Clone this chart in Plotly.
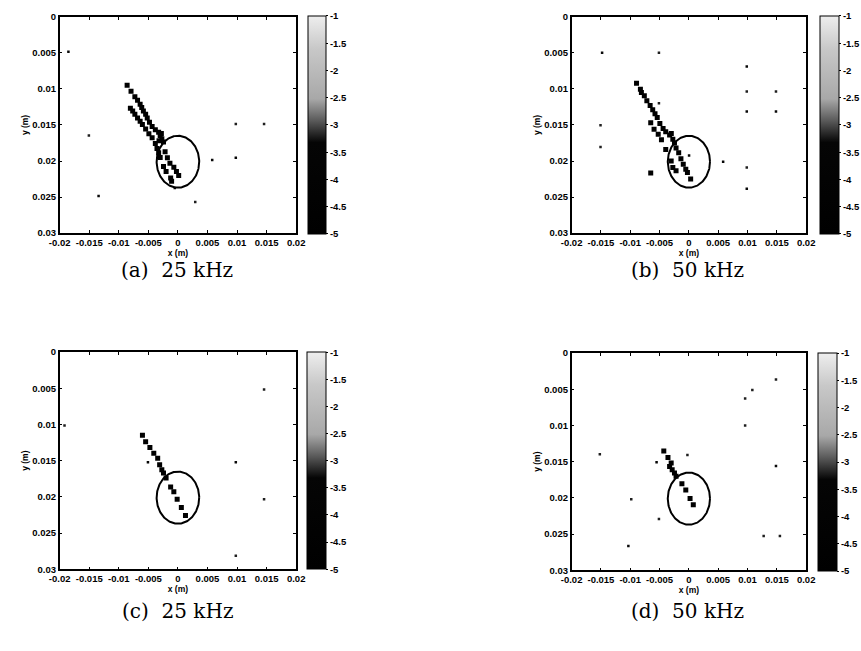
import numpy as np
import plotly.graph_objects as go

# ---- axes and colour-bar ticks ----
X_TICKS = [-0.02, -0.015, -0.01, -0.005, 0, 0.005, 0.01, 0.015, 0.02]
X_TICK_TEXT = ["-0.02", "-0.015", "-0.01", "-0.005", "0", "0.005", "0.01", "0.015", "0.02"]
Y_TICKS = [0, 0.005, 0.01, 0.015, 0.02, 0.025, 0.03]
Y_TICK_TEXT = ["0", "0.005", "0.01", "0.015", "0.02", "0.025", "0.03"]
CBAR_TICKS = [-1, -1.5, -2, -2.5, -3, -3.5, -4, -4.5, -5]
CBAR_TICK_TEXT = ["-1", "-1.5", "-2", "-2.5", "-3", "-3.5", "-4", "-4.5", "-5"]
CAPTIONS = ["(a)\u00a0 25 kHz", "(b)\u00a0 50 kHz", "(c)\u00a0 25 kHz", "(d)\u00a0 50 kHz"]

# circular target outline (m)
TARGET_CX = 0.0
TARGET_CY = 0.0201
TARGET_R = 0.0036

# ---- reconstructed image points: x (m), y (m), log amplitude ----
a_x = [-0.00859, -0.00793, -0.00728, -0.00683, -0.00639, -0.00612, -0.00584, -0.00546,
       -0.00519, -0.00481, -0.00436, -0.00382, -0.00326, -0.00300, -0.00272, -0.00244,
       -0.00280, -0.00320, -0.00217, -0.00178, -0.00135, -0.00069, -0.00025, 0.00013,
       -0.00804, -0.00765, -0.00728, -0.00683, -0.00639, -0.00601, -0.00546, -0.00491,
       -0.00436, -0.00382, -0.00354, -0.00326, -0.00300, -0.00244, -0.00200, -0.00123,
       -0.00107,
       -0.01852, -0.01506, -0.01342, 0.00979, 0.00580, 0.00979, 0.00293, 0.01457, -0.00053]
a_y = [0.00950, 0.01032, 0.01109, 0.01159, 0.01214, 0.01259, 0.01305, 0.01350,
       0.01405, 0.01463, 0.01523, 0.01568, 0.01600, 0.01645, 0.01691, 0.01736,
       0.01620, 0.01720, 0.01873, 0.01955, 0.02032, 0.02086, 0.02145, 0.02200,
       0.01268, 0.01305, 0.01350, 0.01405, 0.01450, 0.01495, 0.01555, 0.01623,
       0.01677, 0.01759, 0.01827, 0.01886, 0.01950, 0.02077, 0.02145, 0.02236,
       0.02281,
       0.00486, 0.01645, 0.02486, 0.01486, 0.01986, 0.01955, 0.02568, 0.01486, 0.02373]
a_v = [-4.6, -4.7, -4.8, -4.9, -4.9, -4.9, -4.9, -4.9,
       -4.9, -4.9, -4.9, -4.9, -4.9, -5.0, -5.0, -5.0,
       -5.0, -5.0, -4.8, -4.8, -4.8, -4.8, -4.8, -4.6,
       -4.3, -4.5, -4.6, -4.7, -4.7, -4.7, -4.7, -4.7,
       -4.7, -4.8, -4.8, -4.8, -4.8, -4.7, -4.7, -4.6,
       -4.5,
       -3.3, -3.2, -3.3, -3.2, -3.3, -3.4, -3.2, -3.2, -3.5]

b_x = [-0.00893, -0.00827, -0.00810, -0.00760, -0.00717, -0.00661, -0.00617, -0.00578,
       -0.00540, -0.00495, -0.00440, -0.00395, -0.00329, -0.00274, -0.00246, -0.00219,
       -0.00300, -0.00174, -0.00136, -0.00096, -0.00053, -0.00025, 0.00030,
       -0.00651, -0.00594, -0.00523, -0.00468, -0.00395, -0.00302, -0.00274, -0.00219,
       -0.00651,
       -0.01480, -0.00511, -0.01507, -0.01507, -0.00511, 0.00003, 0.00584, 0.00987,
       0.00987, 0.00987, 0.01485, 0.01485, 0.00987, 0.00987]
b_y = [0.00923, 0.01005, 0.01049, 0.01095, 0.01163, 0.01231, 0.01290, 0.01344,
       0.01398, 0.01480, 0.01548, 0.01593, 0.01638, 0.01697, 0.01751, 0.01819,
       0.01620, 0.01887, 0.01968, 0.02046, 0.02114, 0.02158, 0.02249,
       0.01470, 0.01561, 0.01629, 0.01706, 0.01842, 0.02000, 0.02091, 0.02136,
       0.02168,
       0.00498, 0.00498, 0.01503, 0.01805, 0.01199, 0.01923, 0.02009, 0.00688,
       0.01036, 0.01312, 0.01312, 0.01036, 0.02090, 0.02385]
b_v = [-4.6, -4.8, -4.9, -4.9, -4.9, -4.9, -4.9, -4.9,
       -4.9, -4.9, -4.9, -4.9, -5.0, -5.0, -5.0, -5.0,
       -4.9, -4.9, -4.9, -4.9, -4.8, -4.8, -4.6,
       -4.3, -4.3, -4.3, -4.3, -4.3, -4.4, -4.4, -4.4,
       -4.4,
       -3.3, -3.2, -3.2, -3.2, -3.2, -3.3, -3.4, -3.3,
       -3.2, -3.3, -3.3, -3.2, -3.2, -3.3]

c_x = [-0.00600, -0.00546, -0.00474, -0.00408, -0.00342, -0.00309, -0.00272, -0.00244,
       -0.00200, -0.00123, -0.00069, -0.00013, 0.00058, 0.00128,
       -0.00507, -0.01918, 0.01457, 0.00979, 0.00979, 0.01457]
c_y = [0.01150, 0.01240, 0.01317, 0.01398, 0.01466, 0.01557, 0.01625, 0.01670,
       0.01738, 0.01864, 0.01928, 0.02032, 0.02145, 0.02258,
       0.01520, 0.01014, 0.00516, 0.01520, 0.02814, 0.02032]
c_v = [-4.6, -4.7, -4.7, -4.7, -4.8, -5.0, -5.0, -5.0,
       -5.0, -4.8, -4.8, -4.8, -4.8, -4.7,
       -3.4, -3.2, -3.2, -3.3, -3.2, -3.2]

d_x = [-0.00428, -0.00357, -0.00302, -0.00329, -0.00285, -0.00246, -0.00219,
       -0.00119, -0.00053, 0.00020, 0.00075,
       -0.00551, -0.01519, -0.00025, -0.00983, -0.00511, -0.01032, 0.00959, 0.01082,
       0.01485, 0.00959, 0.01485, 0.01275, 0.01552]
d_y = [0.01353, 0.01443, 0.01520, 0.01565, 0.01611, 0.01656, 0.01701,
       0.01805, 0.01891, 0.02009, 0.02095,
       0.01507, 0.01398, 0.01407, 0.02018, 0.02290, 0.02665, 0.00629, 0.00512,
       0.00367, 0.01000, 0.01561, 0.02525, 0.02525]
d_v = [-4.4, -4.6, -4.9, -5.0, -5.0, -5.0, -5.0,
       -4.6, -4.6, -4.6, -4.6,
       -3.4, -3.2, -3.2, -3.2, -3.2, -3.3, -3.2, -3.2,
       -3.2, -3.2, -3.3, -3.2, -3.2]

PANELS = [(a_x, a_y, a_v), (b_x, b_y, b_v), (c_x, c_y, c_v), (d_x, d_y, d_v)]

# ---- layout geometry (pixels, converted to paper fractions) ----
W, H = 861, 651
# plot boxes: left, right, top, bottom
BOXES = [(50, 293, 11, 231), (576, 817, 11, 231), (50, 293, 352, 573), (576, 817, 353, 574)]
# colour bars: left, width, top, bottom
CBARS = [(305, 18, 10, 232), (831, 19, 10, 232), (304, 19, 352, 573), (829, 19, 353, 575)]
CAPTION_POS = [(171, 269), (695, 269), (171, 615), (695, 615)]

GRAYSCALE = [[0.0, "#000000"], [0.42, "#050505"], [0.52, "#5a5a5a"],
             [0.62, "#a8a8a8"], [0.85, "#c8c8c8"], [1.0, "#eeeeee"]]

tick_font = dict(family="Liberation Sans, Arial", size=9.5, color="black", weight="bold")
title_font = dict(family="Liberation Sans, Arial", size=8.5, color="black", weight="bold")

fig = go.Figure()
layout = dict(width=W, height=H, margin=dict(l=0, r=0, t=0, b=0),
              paper_bgcolor="white", plot_bgcolor="white", showlegend=False)

theta = np.linspace(0, 2 * np.pi, 200)
circ_x = TARGET_CX + TARGET_R * np.cos(theta)
circ_y = TARGET_CY + TARGET_R * np.sin(theta)

for i, (px, py, pv) in enumerate(PANELS):
    n = "" if i == 0 else str(i + 1)
    xa, ya, ca = "x" + n, "y" + n, "coloraxis" + n
    sizes = [5 if v < -4 else 2.5 for v in pv]
    fig.add_trace(go.Scatter(
        x=px, y=py, mode="markers", xaxis=xa, yaxis=ya,
        marker=dict(symbol="square", size=sizes, color=pv, coloraxis=ca,
                    opacity=1, line=dict(width=0)),
        hoverinfo="skip"))
    fig.add_trace(go.Scatter(
        x=circ_x, y=circ_y, mode="lines", xaxis=xa, yaxis=ya,
        line=dict(color="black", width=2), hoverinfo="skip"))

    l, r, t, b = BOXES[i]
    layout["xaxis" + n] = dict(
        domain=[l / W, r / W], anchor=ya, range=[-0.02, 0.02],
        tickvals=X_TICKS, ticktext=X_TICK_TEXT, ticks="inside", ticklen=3,
        tickcolor="black", showline=True, linecolor="black", linewidth=1.5, mirror="ticks",
        showgrid=False, zeroline=False, tickfont=tick_font,
        title=dict(text="x (m)", font=title_font, standoff=0))
    layout["yaxis" + n] = dict(
        domain=[1 - b / H, 1 - t / H], anchor=xa, range=[0.03, 0],
        tickvals=Y_TICKS, ticktext=Y_TICK_TEXT, ticks="inside", ticklen=3,
        tickcolor="black", showline=True, linecolor="black", linewidth=1.5, mirror="ticks",
        showgrid=False, zeroline=False, tickfont=tick_font,
        title=dict(text="y (m)", font=title_font, standoff=2))

    cl, cw, ct, cb = CBARS[i]
    layout[ca] = dict(
        cmin=-5, cmax=-1, colorscale=GRAYSCALE,
        colorbar=dict(
            x=cl / W, xanchor="left", xref="paper",
            y=1 - (ct + cb) / 2 / H, yanchor="middle", yref="paper",
            len=(cb - ct) / H, lenmode="fraction",
            thickness=cw, thicknessmode="pixels",
            outlinecolor="black", outlinewidth=1,
            tickvals=CBAR_TICKS, ticktext=CBAR_TICK_TEXT,
            ticks="outside", ticklen=2, tickcolor="black",
            tickfont=tick_font, xpad=0, ypad=0))

annotations = []
for (cx, cy), text in zip(CAPTION_POS, CAPTIONS):
    annotations.append(dict(
        x=cx / W, y=1 - cy / H, xref="paper", yref="paper", text=text,
        showarrow=False, xanchor="center", yanchor="middle", borderpad=0,
        font=dict(family="DejaVu Serif", size=20, color="black")))
layout["annotations"] = annotations

fig.update_layout(**layout)
fig.write_html("out.html")
